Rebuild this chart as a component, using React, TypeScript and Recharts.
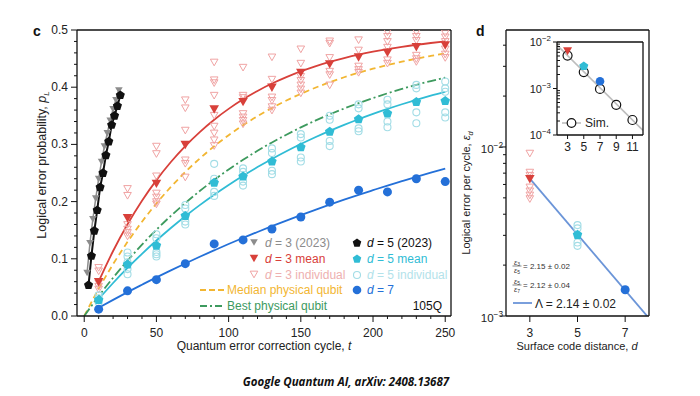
import React from 'react';
import { ComposedChart, Line, Scatter, XAxis, YAxis } from 'recharts';

const FONT = "'Liberation Sans', Arial, Helvetica, sans-serif";

// ---- panel c: logical error probability vs cycle ----
const CYCLES = [10, 30, 50, 70, 90, 110, 130, 150, 170, 190, 210, 230, 250];
const D3_MEAN = [0.06, 0.172, 0.232, 0.3, 0.362, 0.375, 0.4, 0.426, 0.441, 0.453, 0.461, 0.471, 0.474];
const D5_MEAN = [0.028, 0.09, 0.123, 0.175, 0.233, 0.244, 0.27, 0.295, 0.322, 0.344, 0.354, 0.374, 0.376];
const D7_MEAN = [0.012, 0.044, 0.0635, 0.0915, 0.126, 0.133, 0.152, 0.173, 0.199, 0.22, 0.217, 0.24, 0.235];

const D3_INDIVIDUAL = [
  [0.085, 0.079, 0.058, 0.052, 0.047],
  [0.223, 0.211, 0.16, 0.152, 0.146, 0.14],
  [0.297, 0.284, 0.245, 0.215, 0.208, 0.2, 0.196],
  [0.378, 0.364, 0.325, 0.273, 0.267, 0.243],
  [0.444, 0.413, 0.408, 0.386, 0.351, 0.332, 0.32, 0.308, 0.298],
  [0.435, 0.386, 0.382, 0.354, 0.348, 0.342, 0.336],
  [0.453, 0.414, 0.383, 0.377, 0.366, 0.36],
  [0.467, 0.442, 0.419, 0.412, 0.404, 0.397, 0.39],
  [0.481, 0.477, 0.452, 0.428, 0.422, 0.404],
  [0.483, 0.465, 0.437, 0.431, 0.426],
  [0.497, 0.489, 0.48, 0.47, 0.448, 0.442],
  [0.497, 0.489, 0.482, 0.456, 0.45, 0.445],
  [0.495, 0.488, 0.48, 0.467, 0.458, 0.452],
];
const D5_INDIVIDUAL = [
  [0.036, 0.031, 0.024],
  [0.111, 0.104, 0.094, 0.082, 0.073],
  [0.143, 0.136, 0.112, 0.108, 0.104],
  [0.194, 0.188, 0.165, 0.16],
  [0.266, 0.24, 0.217, 0.21],
  [0.258, 0.252, 0.235, 0.228],
  [0.293, 0.285, 0.254, 0.248],
  [0.318, 0.312, 0.277, 0.27],
  [0.35, 0.343, 0.306, 0.297],
  [0.37, 0.363, 0.328, 0.323],
  [0.378, 0.37, 0.34, 0.33],
  [0.404, 0.398, 0.356, 0.337],
  [0.41, 0.398, 0.392, 0.356, 0.347],
];

// 2023 experiment
const CYCLES_2023_D3 = [2, 4, 6, 8, 10, 12, 14, 16, 18, 20, 22, 24];
const P_2023_D3 = [0.076, 0.128, 0.17, 0.206, 0.24, 0.27, 0.297, 0.32, 0.342, 0.362, 0.378, 0.395];
const CYCLES_2023_D5 = [3, 5, 7, 9, 11, 13, 15, 17, 19, 21, 23, 25];
const P_2023_D5 = [0.054, 0.105, 0.149, 0.185, 0.225, 0.25, 0.281, 0.305, 0.334, 0.35, 0.367, 0.386];

// fitted curves
const FIT_T = [10, 20, 30, 40, 50, 60, 70, 80, 90, 100, 110, 120, 130, 140, 150, 160, 170, 180, 190, 200, 210, 220, 230, 240, 250];
const FIT_D3 = [0.0604, 0.1136, 0.1603, 0.2014, 0.2375, 0.2692, 0.2971, 0.3216, 0.3432, 0.3621, 0.3788, 0.3935, 0.4064, 0.4177, 0.4276, 0.4364, 0.4441, 0.4508, 0.4568, 0.462, 0.4666, 0.4706, 0.4742, 0.4773, 0.48];
const FIT_D5 = [0.0297, 0.0577, 0.084, 0.1087, 0.132, 0.1539, 0.1745, 0.1938, 0.212, 0.2291, 0.2452, 0.2604, 0.2746, 0.288, 0.3006, 0.3125, 0.3236, 0.3341, 0.344, 0.3533, 0.362, 0.3702, 0.3779, 0.3852, 0.392];
const FIT_D7 = [0.0143, 0.0282, 0.0417, 0.0547, 0.0675, 0.0798, 0.0918, 0.1035, 0.1148, 0.1259, 0.1365, 0.1469, 0.157, 0.1668, 0.1764, 0.1856, 0.1946, 0.2033, 0.2118, 0.22, 0.2281, 0.2358, 0.2434, 0.2507, 0.2578];

const PHYS_T = [0, 10, 20, 30, 40, 50, 60, 70, 80, 90, 100, 110, 120, 130, 140, 150, 160, 170, 180, 190, 200, 210, 220, 230, 240, 250];
const MEDIAN_QUBIT = [0, 0.0476, 0.0906, 0.1296, 0.1648, 0.1967, 0.2256, 0.2517, 0.2753, 0.2967, 0.3161, 0.3335, 0.3494, 0.3637, 0.3767, 0.3884, 0.399, 0.4087, 0.4174, 0.4252, 0.4323, 0.4388, 0.4446, 0.4499, 0.4546, 0.459];
const BEST_QUBIT = [0, 0.0346, 0.0669, 0.0969, 0.1248, 0.1508, 0.175, 0.1975, 0.2185, 0.238, 0.2561, 0.273, 0.2888, 0.3034, 0.317, 0.3297, 0.3415, 0.3525, 0.3627, 0.3722, 0.381, 0.3893, 0.397, 0.4041, 0.4107, 0.4169];

const X_TICKS = [0, 10, 20, 30, 40, 50, 60, 70, 80, 90, 100, 110, 120, 130, 140, 150, 160, 170, 180, 190, 200, 210, 220, 230, 240, 250];
const Y_TICKS = [0, 0.02, 0.04, 0.06, 0.08, 0.1, 0.12, 0.14, 0.16, 0.18, 0.2, 0.22, 0.24, 0.26, 0.28, 0.3, 0.32, 0.34, 0.36, 0.38, 0.4, 0.42, 0.44, 0.46, 0.48, 0.5];

// ---- panel d: error per cycle vs distance ----
const DISTANCES = [3, 5, 7];
const EPS_MEAN = [6.5e-3, 3.02e-3, 1.43e-3];
const EPS_D3_INDIVIDUAL = [9.2e-3, 7.1e-3, 6.8e-3, 5.8e-3, 5.5e-3, 5.2e-3, 4.95e-3];
const EPS_D5_INDIVIDUAL = [3.45e-3, 3.3e-3, 2.72e-3, 2.6e-3];
const LAMBDA_FIT_D = [3, 8];
const LAMBDA_FIT_EPS = [6.5e-3, 9.7e-4];
const D_TICKS = [3, 5, 7];
const EPS_TICKS = [1e-3, 2e-3, 3e-3, 4e-3, 5e-3, 6e-3, 7e-3, 8e-3, 9e-3, 1e-2, 2e-2, 3e-2, 4e-2];

// inset: simulation
const SIM_D = [3, 5, 7, 9, 11];
const SIM_EPS = [5.1e-3, 2.25e-3, 9.8e-4, 4.45e-4, 2.1e-4];
const SIM_FIT_D = [1.7, 12.3];
const SIM_FIT_EPS = [8.6e-3, 1.26e-4];
const INSET_D_TICKS = [3, 5, 7, 9, 11];
const INSET_EPS_TICKS = [
  1e-4, 2e-4, 3e-4, 4e-4, 5e-4, 6e-4, 7e-4, 8e-4, 9e-4,
  1e-3, 2e-3, 3e-3, 4e-3, 5e-3, 6e-3, 7e-3, 8e-3, 9e-3, 1e-2,
];

// colours
const RED = '#d8403a';
const PINK = '#f0a3a3';
const GRAY = '#8c8c8c';
const CYAN = '#30bcd5';
const LIGHT_CYAN = '#a3dde6';
const BLUE = '#2470d8';
const FIT_BLUE = '#6b95d8';
const YELLOW = '#f2b632';
const GREEN = '#3d9a5e';
const AXIS = { stroke: '#111', strokeWidth: 1.3 };

const toTP = (ts: number[], ps: number[]) => ts.map((t, i) => ({ t, p: ps[i] }));
const toDE = (ds: number[], es: number[]) => ds.map((d, i) => ({ d, e: es[i] }));
const groupTP = (groups: number[][]) => CYCLES.flatMap((t, i) => groups[i].map(p => ({ t, p })));

const isDecade = (v: number) => Math.abs(Math.log10(v) - Math.round(Math.log10(v))) < 1e-6;

// ---- marker shapes ----
const Tri = ({ cx, cy, r, fill, stroke, sw = 1 }: any) => (
  <polygon
    points={`${cx - r},${cy - r * 0.75} ${cx + r},${cy - r * 0.75} ${cx},${cy + r}`}
    fill={fill}
    stroke={stroke}
    strokeWidth={sw}
  />
);

const Pent = ({ cx, cy, r, fill }: any) => {
  const pts = [0, 1, 2, 3, 4]
    .map(i => {
      const a = -Math.PI / 2 + (i * 2 * Math.PI) / 5;
      return `${cx + r * Math.cos(a)},${cy + r * Math.sin(a)}`;
    })
    .join(' ');
  return <polygon points={pts} fill={fill} />;
};

// ---- tick renderers (x/y are the axis line position: tickSize and tickMargin are 0) ----
const LeftXTick = ({ x, y, payload }: any) => {
  const major = payload.value % 50 === 0;
  return (
    <g>
      <line x1={x} x2={x} y1={y} y2={y + (major ? 6 : 3)} stroke="#111" />
      {major && (
        <text x={x} y={y + 21} textAnchor="middle" fontSize={12} fill="#222" fontFamily={FONT}>
          {payload.value}
        </text>
      )}
    </g>
  );
};

const LeftYTick = ({ x, y, payload }: any) => {
  const v = payload.value;
  const major = Math.abs(v * 10 - Math.round(v * 10)) < 1e-6;
  return (
    <g>
      <line x1={x - (major ? 6 : 3)} x2={x} y1={y} y2={y} stroke="#111" />
      {major && (
        <text x={x - 9} y={y + 4} textAnchor="end" fontSize={12} fill="#222" fontFamily={FONT}>
          {v.toFixed(1)}
        </text>
      )}
    </g>
  );
};

const Pow = ({ x, y, exp, fs }: any) => (
  <text x={x} y={y} textAnchor="end" fontSize={fs} fill="#222" fontFamily={FONT}>
    10
    <tspan dy={-fs * 0.45} fontSize={fs * 0.72}>{`\u2212${exp}`}</tspan>
  </text>
);

const RightYTick = ({ x, y, payload }: any) => {
  const major = isDecade(payload.value);
  return (
    <g>
      <line x1={x - (major ? 6 : 3)} x2={x} y1={y} y2={y} stroke="#111" />
      {major && <Pow x={x - 3} y={y + 6} fs={11.5} exp={-Math.round(Math.log10(payload.value))} />}
    </g>
  );
};

const DistTick = ({ x, y, payload }: any) => (
  <g>
    <line x1={x} x2={x} y1={y} y2={y + 6} stroke="#111" />
    <text x={x} y={y + 21} textAnchor="middle" fontSize={12} fill="#222" fontFamily={FONT}>
      {payload.value}
    </text>
  </g>
);

const InsetYTick = ({ x, y, payload }: any) => {
  const major = isDecade(payload.value);
  return (
    <g>
      {major ? (
        <line x1={x - 4} x2={x} y1={y} y2={y} stroke="#111" />
      ) : (
        <line x1={x} x2={x + 3} y1={y} y2={y} stroke="#111" />
      )}
      {major && <Pow x={x - 6} y={y + 4} fs={11} exp={-Math.round(Math.log10(payload.value))} />}
    </g>
  );
};

const InsetXTick = ({ x, y, payload }: any) => (
  <g>
    <line x1={x} x2={x} y1={y} y2={y + 4} stroke="#111" />
    <text x={x} y={y + 16} textAnchor="middle" fontSize={12} fill="#222" fontFamily={FONT}>
      {payload.value}
    </text>
  </g>
);

const noAnim = { isAnimationActive: false };

const Frac = ({ x, y, a, b }: any) => (
  <g fontSize={7.5} fill="#333" fontFamily={FONT}>
    <text x={x} y={y - 1.5} textAnchor="middle">
      <tspan fontStyle="italic">ε</tspan>
      <tspan fontSize={5} dy={1.5}>{a}</tspan>
    </text>
    <line x1={x - 4.5} x2={x + 4.5} y1={y} y2={y} stroke="#333" strokeWidth={0.6} />
    <text x={x} y={y + 6.5} textAnchor="middle">
      <tspan fontStyle="italic">ε</tspan>
      <tspan fontSize={5} dy={1.5}>{b}</tspan>
    </text>
  </g>
);

const LegendRow = ({ x, y, color, marker, label, suffix }: any) => (
  <g>
    {marker}
    <text x={x} y={y + 4} fontSize={12} fill={color} fontFamily={FONT}>
      {label && <tspan fontStyle="italic">{label}</tspan>}
      {suffix}
    </text>
  </g>
);

// shared axis settings: 30px for the bottom axis, 40px for the left axis
const BOTTOM = { tickLine: false, tickSize: 0, tickMargin: 0, height: 30, axisLine: AXIS, interval: 0 as const, allowDataOverflow: true };
const LEFT = { tickLine: false, tickSize: 0, tickMargin: 0, width: 40, axisLine: AXIS, interval: 0 as const, allowDataOverflow: true };
const FRAME_TOP = { orientation: 'top' as const, tick: false, tickLine: false, height: 1, axisLine: AXIS };
const FRAME_RIGHT = { orientation: 'right' as const, tick: false, tickLine: false, width: 1, axisLine: AXIS };

export default function App() {
  const d3Ind = groupTP(D3_INDIVIDUAL);
  const d5Ind = groupTP(D5_INDIVIDUAL);

  return (
    <div
      style={{
        position: 'absolute',
        left: 0,
        top: 0,
        width: 700,
        height: 396,
        background: '#fff',
        overflow: 'hidden',
        fontFamily: FONT,
      }}
    >
      {/* panel c */}
      <div style={{ position: 'absolute', left: 0, top: 0 }}>
        <ComposedChart width={460} height={396} margin={{ top: 29, right: 8, bottom: 50, left: 37 }}>
          <XAxis dataKey="t" type="number" domain={[-5, 254]} ticks={X_TICKS} tick={LeftXTick} {...BOTTOM} />
          <XAxis xAxisId="top" type="number" domain={[-5, 254]} {...FRAME_TOP} />
          <YAxis dataKey="p" type="number" domain={[0, 0.5]} ticks={Y_TICKS} tick={LeftYTick} {...LEFT} />
          <YAxis yAxisId="right" type="number" domain={[0, 0.5]} {...FRAME_RIGHT} />

          <Scatter data={d3Ind} shape={(p: any) => <Tri cx={p.cx} cy={p.cy} r={3.8} fill="none" stroke={PINK} />} {...noAnim} />
          <Scatter data={d5Ind} shape={(p: any) => <circle cx={p.cx} cy={p.cy} r={3.5} fill="none" stroke={LIGHT_CYAN} strokeWidth={1.1} />} {...noAnim} />

          <Line data={toTP(PHYS_T, MEDIAN_QUBIT)} dataKey="p" type="monotone" stroke={YELLOW} strokeWidth={1.8} strokeDasharray="6 4" dot={false} activeDot={false} {...noAnim} />
          <Line data={toTP(PHYS_T, BEST_QUBIT)} dataKey="p" type="monotone" stroke={GREEN} strokeWidth={1.8} strokeDasharray="9 3 2 3" dot={false} activeDot={false} {...noAnim} />
          <Line data={toTP(FIT_T, FIT_D3)} dataKey="p" type="monotone" stroke={RED} strokeWidth={1.8} dot={false} activeDot={false} {...noAnim} />
          <Line data={toTP(FIT_T, FIT_D5)} dataKey="p" type="monotone" stroke={CYAN} strokeWidth={1.8} dot={false} activeDot={false} {...noAnim} />
          <Line data={toTP(FIT_T, FIT_D7)} dataKey="p" type="monotone" stroke={BLUE} strokeWidth={1.8} dot={false} activeDot={false} {...noAnim} />

          <Scatter data={toTP(CYCLES, D3_MEAN)} shape={(p: any) => <Tri cx={p.cx} cy={p.cy} r={4.8} fill={RED} stroke="none" />} {...noAnim} />
          <Scatter data={toTP(CYCLES, D5_MEAN)} shape={(p: any) => <Pent cx={p.cx} cy={p.cy} r={5} fill={CYAN} />} {...noAnim} />
          <Scatter data={toTP(CYCLES, D7_MEAN)} shape={(p: any) => <circle cx={p.cx} cy={p.cy} r={4.5} fill={BLUE} />} {...noAnim} />

          <Line
            data={toTP(CYCLES_2023_D3, P_2023_D3)}
            dataKey="p"
            type="linear"
            stroke={GRAY}
            strokeWidth={1.5}
            dot={(p: any) => <Tri key={`g${p.index}`} cx={p.cx} cy={p.cy} r={3.8} fill={GRAY} stroke="none" />}
            activeDot={false}
            {...noAnim}
          />
          <Line
            data={toTP(CYCLES_2023_D5, P_2023_D5)}
            dataKey="p"
            type="linear"
            stroke="#111"
            strokeWidth={2}
            dot={(p: any) => <Pent key={`b${p.index}`} cx={p.cx} cy={p.cy} r={4.8} fill="#111" />}
            activeDot={false}
            {...noAnim}
          />
        </ComposedChart>
      </div>

      {/* panel d */}
      <div style={{ position: 'absolute', left: 460, top: 0 }}>
        <ComposedChart width={240} height={396} margin={{ top: 29, right: 50, bottom: 50, left: 6 }}>
          <XAxis dataKey="d" type="number" domain={[2, 8]} ticks={D_TICKS} tick={DistTick} {...BOTTOM} />
          <XAxis xAxisId="top" type="number" domain={[2, 8]} {...FRAME_TOP} />
          <YAxis dataKey="e" type="number" scale="log" domain={[1e-3, 0.0492]} ticks={EPS_TICKS} tick={RightYTick} {...LEFT} />
          <YAxis yAxisId="right" type="number" scale="log" domain={[1e-3, 0.0492]} {...FRAME_RIGHT} />

          <Scatter data={toDE(EPS_D3_INDIVIDUAL.map(() => DISTANCES[0]), EPS_D3_INDIVIDUAL)} shape={(p: any) => <Tri cx={p.cx} cy={p.cy} r={3.8} fill="none" stroke={PINK} />} {...noAnim} />
          <Scatter data={toDE(EPS_D5_INDIVIDUAL.map(() => DISTANCES[1]), EPS_D5_INDIVIDUAL)} shape={(p: any) => <circle cx={p.cx} cy={p.cy} r={3.5} fill="none" stroke={LIGHT_CYAN} strokeWidth={1.1} />} {...noAnim} />
          <Line data={toDE(LAMBDA_FIT_D, LAMBDA_FIT_EPS)} dataKey="e" type="linear" stroke={FIT_BLUE} strokeWidth={1.8} dot={false} activeDot={false} {...noAnim} />
          <Scatter data={toDE([DISTANCES[0]], [EPS_MEAN[0]])} shape={(p: any) => <Tri cx={p.cx} cy={p.cy} r={4.8} fill={RED} stroke="none" />} {...noAnim} />
          <Scatter data={toDE([DISTANCES[1]], [EPS_MEAN[1]])} shape={(p: any) => <Pent cx={p.cx} cy={p.cy} r={5} fill={CYAN} />} {...noAnim} />
          <Scatter data={toDE([DISTANCES[2]], [EPS_MEAN[2]])} shape={(p: any) => <circle cx={p.cx} cy={p.cy} r={4.5} fill={BLUE} />} {...noAnim} />
        </ComposedChart>
      </div>

      {/* inset */}
      <div style={{ position: 'absolute', left: 500, top: 0 }}>
        <ComposedChart width={200} height={200} margin={{ top: 41, right: 56, bottom: 35, left: 17 }}>
          <XAxis dataKey="d" type="number" domain={[1.7, 12.3]} ticks={INSET_D_TICKS} tick={InsetXTick} {...BOTTOM} />
          <XAxis xAxisId="top" type="number" domain={[1.7, 12.3]} {...FRAME_TOP} />
          <YAxis dataKey="e" type="number" scale="log" domain={[1e-4, 1e-2]} ticks={INSET_EPS_TICKS} tick={InsetYTick} {...LEFT} />
          <YAxis yAxisId="right" type="number" scale="log" domain={[1e-4, 1e-2]} {...FRAME_RIGHT} />

          <Line data={toDE(SIM_FIT_D, SIM_FIT_EPS)} dataKey="e" type="linear" stroke="#bdbdbd" strokeWidth={1.6} dot={false} activeDot={false} {...noAnim} />
          <Scatter data={toDE(SIM_D, SIM_EPS)} shape={(p: any) => <circle cx={p.cx} cy={p.cy} r={4.5} fill="none" stroke="#111" strokeWidth={1.2} />} {...noAnim} />
          <Scatter data={toDE([DISTANCES[0]], [EPS_MEAN[0]])} shape={(p: any) => <Tri cx={p.cx} cy={p.cy} r={4.5} fill={RED} stroke="none" />} {...noAnim} />
          <Scatter data={toDE([DISTANCES[1]], [EPS_MEAN[1]])} shape={(p: any) => <Pent cx={p.cx} cy={p.cy} r={4.8} fill={CYAN} />} {...noAnim} />
          <Scatter data={toDE([DISTANCES[2]], [EPS_MEAN[2]])} shape={(p: any) => <circle cx={p.cx} cy={p.cy} r={4.3} fill={BLUE} />} {...noAnim} />
        </ComposedChart>
      </div>

      {/* texts, legends */}
      <svg width={700} height={396} style={{ position: 'absolute', left: 0, top: 0, pointerEvents: 'none' }} fontFamily={FONT}>
        <text x={33} y={36} fontSize={14} fontWeight="bold" fill="#111">c</text>
        <text x={476} y={36} fontSize={14} fontWeight="bold" fill="#111">d</text>

        <text transform="translate(46,165) rotate(-90)" textAnchor="middle" fontSize={12.5} fill="#222">
          Logical error probability, <tspan fontStyle="italic">p</tspan>
          <tspan fontSize={8} dy={3} fontStyle="italic">L</tspan>
        </text>
        <text x={264} y={350} textAnchor="middle" fontSize={12} fill="#222">
          Quantum error correction cycle, <tspan fontStyle="italic">t</tspan>
        </text>

        <text transform="translate(470,193) rotate(-90)" textAnchor="middle" fontSize={11} fill="#222">
          Logical error per cycle, <tspan fontStyle="italic">ε</tspan>
          <tspan fontSize={7.5} dy={3} fontStyle="italic">d</tspan>
        </text>
        <text x={577} y={350} textAnchor="middle" fontSize={11} fill="#222">
          Surface code distance, <tspan fontStyle="italic">d</tspan>
        </text>

        {/* panel c legend */}
        <LegendRow x={265} y={243} color={GRAY} label="d" suffix=" = 3 (2023)" marker={<Tri cx={254} cy={242} r={3.8} fill={GRAY} stroke="none" />} />
        <LegendRow x={265} y={259} color={RED} label="d" suffix=" = 3 mean" marker={<Tri cx={254} cy={258} r={4.3} fill={RED} stroke="none" />} />
        <LegendRow x={265} y={275} color="#eeb0b0" label="d" suffix=" = 3 individual" marker={<Tri cx={254} cy={274} r={3.8} fill="none" stroke={PINK} />} />
        <LegendRow x={367} y={243} color="#111" label="d" suffix=" = 5 (2023)" marker={<Pent cx={357} cy={243} r={4.5} fill="#111" />} />
        <LegendRow x={367} y={259} color={CYAN} label="d" suffix=" = 5 mean" marker={<Pent cx={357} cy={259} r={4.5} fill={CYAN} />} />
        <LegendRow x={367} y={275} color="#b3e2ea" label="d" suffix=" = 5 individual" marker={<circle cx={357} cy={275} r={3.5} fill="none" stroke={LIGHT_CYAN} strokeWidth={1.1} />} />
        <LegendRow x={367} y={290} color={BLUE} label="d" suffix=" = 7" marker={<circle cx={357} cy={290} r={4.3} fill={BLUE} />} />
        <LegendRow x={227} y={290} color={YELLOW} suffix="Median physical qubit" marker={<line x1={200} x2={224} y1={290} y2={290} stroke={YELLOW} strokeWidth={1.8} strokeDasharray="6 3" />} />
        <LegendRow x={227} y={306} color={GREEN} suffix="Best physical qubit" marker={<line x1={200} x2={224} y1={306} y2={306} stroke={GREEN} strokeWidth={1.8} strokeDasharray="7 3 2 3" />} />
        <text x={442} y={310} textAnchor="end" fontSize={12} fill="#111">105Q</text>

        {/* panel d annotations */}
        <Frac x={517} y={266} a="3" b="5" />
        <text x={523} y={269} fontSize={8} fill="#333">= 2.15 ± 0.02</text>
        <Frac x={517} y={285} a="5" b="7" />
        <text x={523} y={288} fontSize={8} fill="#333">= 2.12 ± 0.04</text>
        <line x1={513} x2={532} y1={303} y2={303} stroke={FIT_BLUE} strokeWidth={1.8} />
        <text x={535} y={307.5} fontSize={12} fill="#222">Λ = 2.14 ± 0.02</text>

        {/* inset legend */}
        <line x1={562} x2={581} y1={123} y2={123} stroke="#bdbdbd" strokeWidth={1.6} />
        <circle cx={571.5} cy={123} r={4.3} fill="#fff" stroke="#111" strokeWidth={1.2} />
        <text x={585} y={127} fontSize={12} fill="#222">Sim.</text>

        <text x={346} y={386} textAnchor="middle" fontSize={11.5} fontWeight="bold" fontStyle="italic" fill="#111" fontFamily="'Open Sans', sans-serif">
          Google Quantum AI, arXiv: 2408.13687
        </text>
      </svg>
    </div>
  );
}
